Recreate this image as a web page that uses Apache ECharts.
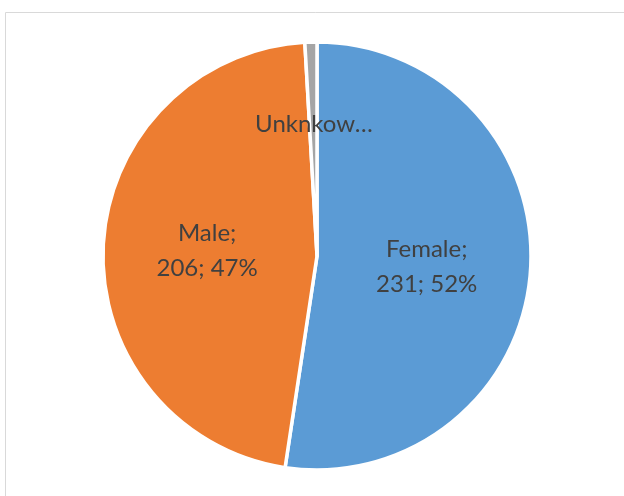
<!DOCTYPE html>
<html>
<head>
<meta charset="utf-8">
<script src="https://cdn.jsdelivr.net/npm/echarts@6/dist/echarts.min.js"></script>
<style>
  html, body { margin: 0; padding: 0; background: #fff; }
  #main { width: 624px; height: 496px; }
</style>
</head>
<body>
<div id="main"></div>
<script>
const categories = ["Female", "Male", "Unknkown"];
const values = [231, 206, 4];
const colors = ["#5B9BD5", "#ED7D31", "#A5A5A5"];

const chartDom = document.getElementById("main");
const myChart = echarts.init(chartDom);

const data = categories.map(function (name, i) {
  return { name: name, value: values[i], itemStyle: { color: colors[i] } };
});

const option = {
  animation: false,
  graphic: [
    {
      type: "rect",
      shape: { x: 5.5, y: 12.5, width: 640, height: 500 },
      style: { fill: "none", stroke: "#d9d9d9", lineWidth: 1 }
    }
  ],
  series: [
    {
      type: "pie",
      center: [317, 256],
      radius: [0, 214],
      startAngle: 90,
      clockwise: true,
      percentPrecision: 0,
      data: data,
      itemStyle: { borderColor: "#fff", borderWidth: 3.5 },
      label: {
        show: true,
        position: "inside",
        color: "#404040",
        fontFamily: "Lato",
        fontSize: 24,
        lineHeight: 35,
        formatter: function (p) {
          if (p.dataIndex === 2) return "Unknkow\u2026";
          return p.name + ";\n" + p.value + "; " + p.percent + "%";
        }
      },
      labelLayout: function (p) {
        if (p.dataIndex === 2) return { dy: -22 };
        if (p.dataIndex === 0) return { dy: 3 };
        return {};
      },
      labelLine: { show: false },
      emphasis: { disabled: true }
    }
  ]
};

option && myChart.setOption(option);
</script>
</body>
</html>
